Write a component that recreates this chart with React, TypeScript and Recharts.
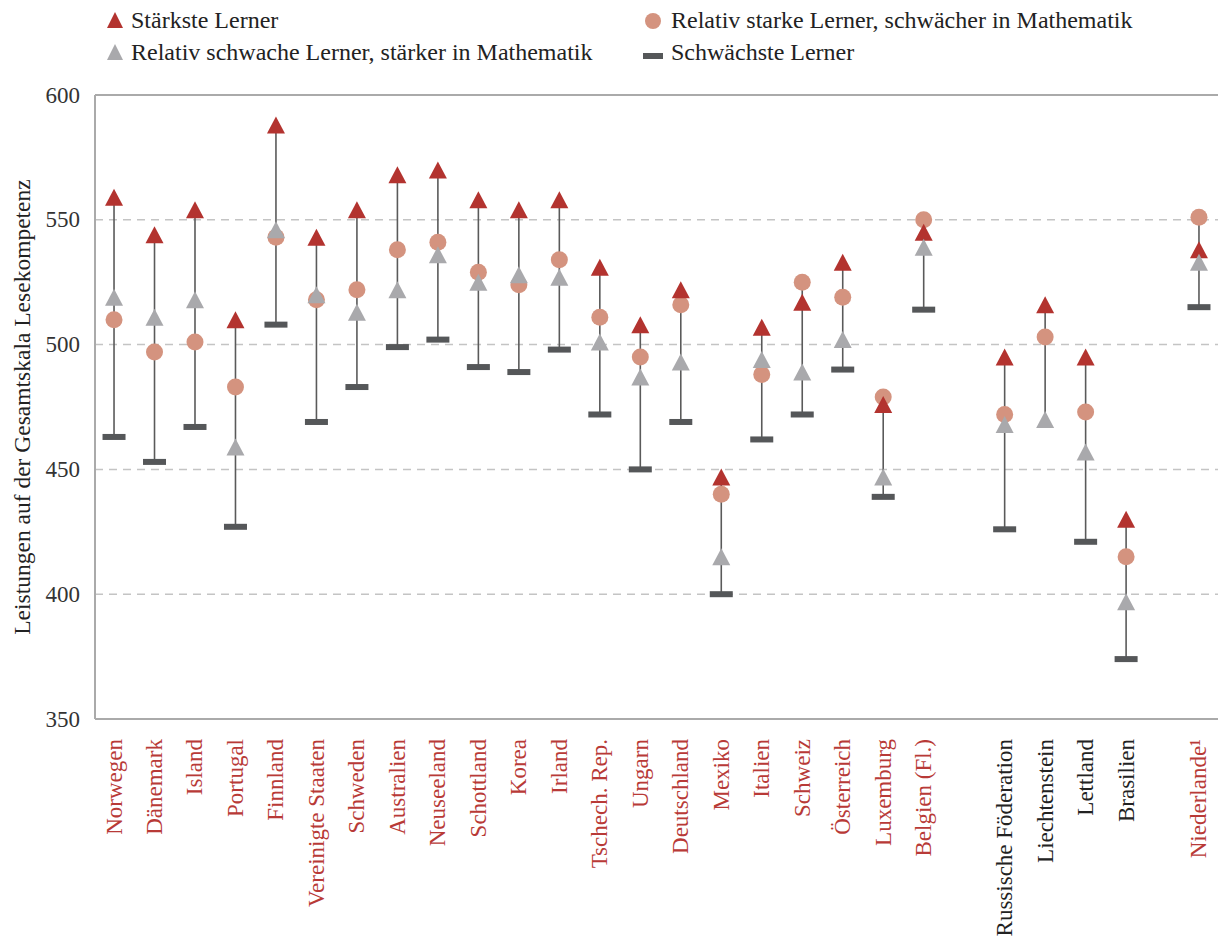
import React from 'react';
import {
  ComposedChart,
  Scatter,
  XAxis,
  YAxis,
  CartesianGrid,
  ReferenceLine,
  ErrorBar
} from 'recharts';

const FONT = '"Liberation Serif", "Times New Roman", serif';
const RED = '#B3332F';
const SALMON = '#D4937F';
const GRAY = '#A9A9AC';
const DARK = '#555759';
const LINE = '#5a5a5a';
const LABEL_RED = '#B83A37';

// countries in chart order; x positions leave gaps between groups
const countries = [
  'Norwegen', 'Dänemark', 'Island', 'Portugal', 'Finnland', 'Vereinigte Staaten',
  'Schweden', 'Australien', 'Neuseeland', 'Schottland', 'Korea', 'Irland',
  'Tschech. Rep.', 'Ungarn', 'Deutschland', 'Mexiko', 'Italien', 'Schweiz',
  'Österreich', 'Luxemburg', 'Belgien (Fl.)', 'Russische Föderation',
  'Liechtenstein', 'Lettland', 'Brasilien', 'Niederlande¹'
];
const xPos = [0, 1, 2, 3, 4, 5, 6, 7, 8, 9, 10, 11, 12, 13, 14, 15, 16, 17, 18, 19, 20, 22, 23, 24, 25, 26.8];
const oecd = [
  true, true, true, true, true, true, true, true, true, true, true, true, true,
  true, true, true, true, true, true, true, true, false, false, false, false, true
];

// Stärkste Lerner
const strongest = [559, 544, 554, 510, 588, 543, 554, 568, 570, 558, 554, 558, 531, 508, 522, 447, 507, 517, 533, 476, 545, 495, 516, 495, 430, 538];
// Relativ starke Lerner, schwächer in Mathematik
const relStrong = [510, 497, 501, 483, 543, 518, 522, 538, 541, 529, 524, 534, 511, 495, 516, 440, 488, 525, 519, 479, 550, 472, 503, 473, 415, 551];
// Relativ schwache Lerner, stärker in Mathematik
const relWeak = [519, 511, 518, 459, 546, 520, 513, 522, 536, 525, 528, 527, 501, 487, 493, 415, 494, 489, 502, 447, 539, 468, 470, 457, 397, 533];
// Schwächste Lerner
const weakest: (number | null)[] = [463, 453, 467, 427, 508, 469, 483, 499, 502, 491, 489, 498, 472, 450, 469, 400, 462, 472, 490, 439, 514, 426, null, 421, 374, 515];

const yTicks = [350, 400, 450, 500, 550, 600];
const legendLabels = [
  'Stärkste Lerner',
  'Relativ starke Lerner, schwächer in Mathematik',
  'Relativ schwache Lerner, stärker in Mathematik',
  'Schwächste Lerner'
];

const toPoints = (vals: (number | null)[]) =>
  vals
    .map((v, i) => ({ x: xPos[i], y: v }))
    .filter((p) => p.y != null);

const spanData = countries.map((_, i) => {
  const vals = [strongest[i], relStrong[i], relWeak[i], weakest[i]].filter((v) => v != null) as number[];
  const lo = Math.min(...vals);
  const hi = Math.max(...vals);
  return { x: xPos[i], y: lo, err: [0, hi - lo] };
});

const Triangle = ({ cx, cy, fill }: any) => (
  <path d={`M${cx},${cy - 8.5}L${cx + 9},${cy + 8.5}L${cx - 9},${cy + 8.5}Z`} fill={fill} />
);
const RedTriangle = (p: any) => <Triangle {...p} fill={RED} />;
const GrayTriangle = (p: any) => <Triangle {...p} fill={GRAY} />;
const Dot = ({ cx, cy }: any) => <circle cx={cx} cy={cy} r={8.5} fill={SALMON} />;
const Dash = ({ cx, cy }: any) => <rect x={cx - 11.5} y={cy - 3} width={23} height={6} fill={DARK} />;
const Nothing = () => <g />;

const XTick = ({ x, y, payload }: any) => {
  const i = xPos.indexOf(payload.value);
  if (i < 0) return null;
  const ty = y + 12;
  return (
    <text
      x={x}
      y={ty}
      transform={`rotate(-90 ${x} ${ty})`}
      textAnchor="end"
      dominantBaseline="central"
      fontFamily={FONT}
      fontSize={23}
      fill={oecd[i] ? LABEL_RED : '#222'}
    >
      {countries[i]}
    </text>
  );
};

const YTick = ({ x, y, payload }: any) => (
  <text
    x={x}
    y={y}
    textAnchor="end"
    dominantBaseline="central"
    style={{ fontFamily: FONT, fontSize: 23 }}
    fill="#333"
  >
    {payload.value}
  </text>
);

const YTitle = ({ viewBox }: any) => {
  const x = (viewBox?.x ?? 0) + 22;
  const y = (viewBox?.y ?? 95) + (viewBox?.height ?? 624) / 2;
  return (
    <text
      x={x}
      y={y}
      transform={`rotate(-90 ${x} ${y})`}
      textAnchor="middle"
      dominantBaseline="central"
      fontFamily={FONT}
      fontSize={23.5}
      fill="#222"
    >
      Leistungen auf der Gesamtskala Lesekompetenz
    </text>
  );
};

const LegendIcon = ({ kind }: { kind: number }) => (
  <svg width={24} height={20} style={{ display: 'block' }}>
    {kind === 0 && <path d="M12,2L20,18L4,18Z" fill={RED} />}
    {kind === 1 && <circle cx={12} cy={11} r={8} fill={SALMON} />}
    {kind === 2 && <path d="M12,2L20,18L4,18Z" fill={GRAY} />}
    {kind === 3 && <rect x={2} y={11} width={20} height={6} fill={DARK} />}
  </svg>
);

const legendSlots = [
  { left: 103, top: 6 },
  { left: 641, top: 6 },
  { left: 103, top: 38 },
  { left: 641, top: 38 }
];

export default function App() {
  return (
    <div style={{ position: 'absolute', left: 0, top: 0, width: 1218, height: 936, background: '#fff', fontFamily: FONT }}>
      {legendLabels.map((label, k) => (
        <div
          key={label}
          style={{
            position: 'absolute',
            left: legendSlots[k].left,
            top: legendSlots[k].top,
            display: 'flex',
            alignItems: 'center',
            fontFamily: FONT,
            fontSize: 24,
            lineHeight: '28px',
            color: '#222',
            whiteSpace: 'nowrap'
          }}
        >
          <LegendIcon kind={k} />
          <span style={{ marginLeft: k % 2 === 1 ? 6 : 4 }}>{label}</span>
        </div>
      ))}
      <ComposedChart width={1218} height={936} margin={{ top: 95, right: 0, left: 0, bottom: 17 }}>
        <CartesianGrid horizontal vertical={false} stroke="#c4c4c4" strokeDasharray="8 6" strokeWidth={1.5} />
        <XAxis
          dataKey="x"
          type="number"
          domain={[-0.47, 27.27]}
          ticks={xPos}
          interval={0}
          height={200}
          tickLine={false}
          axisLine={{ stroke: '#aaa', strokeWidth: 2 }}
          tick={<XTick />}
        />
        <YAxis
          type="number"
          domain={[350, 600]}
          ticks={yTicks}
          width={95}
          tickLine={false}
          tickMargin={9}
          axisLine={{ stroke: '#aaa', strokeWidth: 2 }}
          tick={<YTick />}
          label={{ content: <YTitle /> }}
        />
        <ReferenceLine y={600} stroke="#aaa" strokeWidth={2} />
        <Scatter data={spanData} dataKey="y" shape={<Nothing />} isAnimationActive={false}>
          <ErrorBar dataKey="err" direction="y" width={0} stroke={LINE} strokeWidth={1.6} />
        </Scatter>
        <Scatter data={toPoints(weakest)} dataKey="y" shape={<Dash />} isAnimationActive={false} />
        <Scatter data={toPoints(relStrong)} dataKey="y" shape={<Dot />} isAnimationActive={false} />
        <Scatter data={toPoints(strongest)} dataKey="y" shape={<RedTriangle />} isAnimationActive={false} />
        <Scatter data={toPoints(relWeak)} dataKey="y" shape={<GrayTriangle />} isAnimationActive={false} />
      </ComposedChart>
    </div>
  );
}
